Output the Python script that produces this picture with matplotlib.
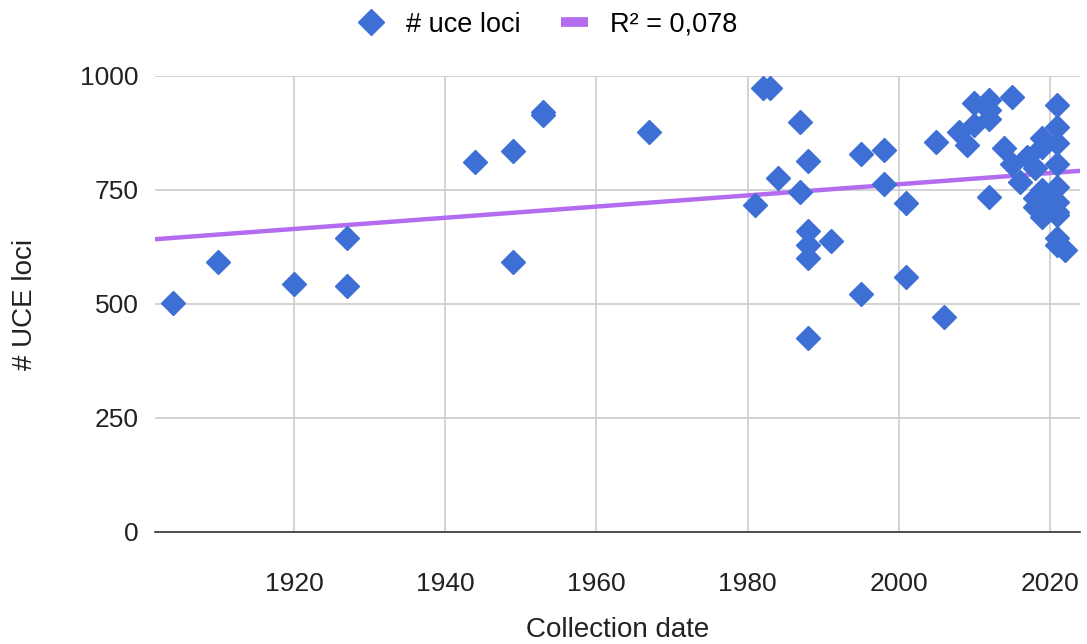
import numpy as np
import matplotlib
matplotlib.use("Agg")
import matplotlib.pyplot as plt
from matplotlib.lines import Line2D

plt.rcParams['font.family'] = ['Liberation Sans', 'DejaVu Sans']

years = [1904, 1910, 1920, 1927, 1927, 1944, 1949, 1949, 1953, 1953, 1967,
         1981, 1982, 1983, 1984, 1987, 1987, 1988, 1988, 1988, 1988, 1988,
         1991, 1995, 1995, 1998, 1998, 2001, 2001, 2005, 2006, 2008, 2009,
         2010, 2010, 2012, 2012, 2012, 2012, 2014, 2015, 2015, 2016, 2017,
         2018, 2019, 2019, 2021, 2021, 2021, 2021, 2021, 2019, 2018, 2020,
         2021, 2018, 2021, 2019, 2021, 2021, 2021, 2022]
loci = [502, 593, 544, 644, 540, 812, 835, 593, 922, 915, 878,
        717, 973, 973, 776, 900, 746, 814, 659, 629, 600, 426,
        639, 830, 522, 838, 763, 722, 560, 856, 471, 878, 849,
        940, 892, 947, 925, 905, 735, 841, 955, 808, 768, 822,
        798, 863, 845, 936, 889, 852, 808, 757, 750, 732, 728,
        724, 713, 702, 691, 695, 644, 629, 618]

# trend line ends
trend_x = [1901.6, 2024.0]
trend_y = [642, 792]

fig = plt.figure(figsize=(10.87, 6.44), dpi=100)
ax = fig.add_axes([0.1426, 0.174, 0.851, 0.708])

ax.plot(trend_x, trend_y, color='#b36cf0', lw=3.2, zorder=2, solid_capstyle='butt')
ax.plot(years, loci, 'D', color='#3d6fd4', ms=12, mec='#3d6fd4', zorder=3, clip_on=False)

ax.set_xlim(1901.6, 2024.0)
ax.set_ylim(0, 1000)
ax.set_xticks([1920, 1940, 1960, 1980, 2000, 2020])
ax.set_yticks([0, 250, 500, 750, 1000])
ax.grid(True, color='#cccccc', lw=1.2)
ax.set_axisbelow(True)
for s in ['top', 'right', 'left']:
    ax.spines[s].set_visible(False)
ax.spines['bottom'].set_color('#333333')
ax.spines['bottom'].set_linewidth(1.2)
ax.tick_params(length=0, labelsize=19, colors='#222222')
ax.tick_params(axis='x', pad=29)
ax.tick_params(axis='y', pad=12)

ax.set_xlabel('Collection date', fontsize=20, labelpad=15, color='#222222')
ax.set_ylabel('# UCE loci', fontsize=20, labelpad=30, color='#222222')

handles = [Line2D([], [], ls='none', marker='D', ms=13, color='#3d6fd4'),
           Line2D([], [], color='#b36cf0', lw=7, solid_capstyle='butt')]
ax.legend(handles, ['# uce loci', 'R² = 0,078'], loc='lower center',
          bbox_to_anchor=(0.424, 1.03), ncol=2, frameon=False, fontsize=19.5,
          handlelength=1.0, columnspacing=1.5, handletextpad=0.8)

fig.savefig('out.png', dpi=100)
